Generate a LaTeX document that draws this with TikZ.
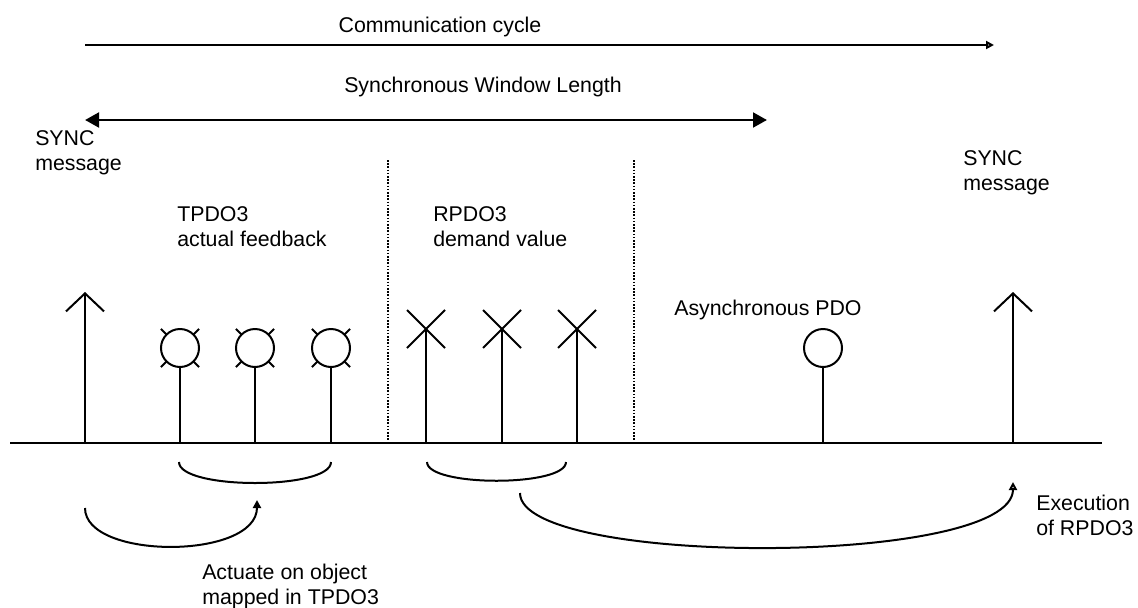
\documentclass[tikz,border=0pt]{standalone}
\usepackage{fontspec}
\setmainfont{Liberation Sans}
\usepackage{tikz}
\usetikzlibrary{arrows.meta}
\tikzset{
  lbl/.style={align=left, inner sep=0pt, anchor=base west, font=\fontsize{16}{18.75}\selectfont},
  stem/.style={black, line width=1.5pt},
  span/.style={black, line width=2.2pt},
  brace/.style={black, line width=1.5pt},
  smalltip/.style={-{Triangle[open, length=6pt, width=6pt]}},
}

\begin{document}
\begin{tikzpicture}[x=0.75pt, y=-0.75pt]
\useasboundingbox (0,0) rectangle (1138,607);
\coordinate (cyc-s) at (85,45);
\coordinate (cyc-e) at (994,45);
\coordinate (win-s) at (85,120);
\coordinate (win-e) at (767,120);
\draw[span, smalltip] (cyc-s) -- (cyc-e);
\node[lbl, anchor=base] (cyc) at (440,32) {Communication cycle};
\draw[span, {Triangle[length=10.5pt, width=11pt]}-{Triangle[length=10.5pt, width=11pt]}] (win-s) -- (win-e);
\node[lbl, anchor=base] (win) at (483,92) {Synchronous Window Length};
\node[lbl] (sync-l) at (35,170) {SYNC\\message};
\node[lbl] (sync-r) at (963,190) {SYNC\\message};
\node[lbl] (tpdo) at (177,246) {TPDO3\\actual feedback};
\node[lbl] (rpdo) at (433,246) {RPDO3\\demand value};
\node[lbl] (apdo) at (674,315) {Asynchronous PDO};
\node[lbl] (exec) at (1036,535) {Execution\\of RPDO3};
\node[lbl] (act) at (202,604) {Actuate on object\\mapped in TPDO3};
\draw[stem] (10,443) -- (1102,443);
\foreach \x in {85,1013} {
 \draw[stem, -{Straight Barb[length=13.5pt, width=28.5pt]}] (\x,443) -- (\x,292);
}
\foreach \x in {180,255,331} {
 \draw[stem] (\x,443) -- (\x,367);
 \draw[stem] (\x,348) circle (19);
 \foreach \a in {45,135,225,315} {
  \draw[stem] (\x,348) ++(\a:19) -- ++(\a:8);
 }
}
\draw[stem] (823,443) -- (823,367);
\draw[stem] (823,348) circle (19);
\foreach \x in {426,502,577} {
 \draw[stem] (\x,443) -- (\x,329);
 \draw[stem] (\x-19,310) -- (\x+19,348);
 \draw[stem] (\x-19,348) -- (\x+19,310);
}
\foreach \x in {388,634} {
 \draw[black, line width=1.2pt, dash pattern=on 1.2pt off 1.2pt] (\x,160) -- (\x,440);
}
\draw[brace] (179,462) .. controls (179,490) and (331,490) .. (331,462);
\draw[brace] (427,462) .. controls (427,487) and (566,487) .. (566,462);
\coordinate (act-s) at (85,508);
\coordinate (act-e) at (257,500);
\coordinate (exec-s) at (520,493);
\coordinate (exec-e) at (1013,482);
\draw[brace, -{Triangle[length=6pt, width=6pt]}] (act-s) .. controls (85,560) and (257,560) .. (act-e);
\draw[brace, smalltip] (exec-s) .. controls (520,567) and (1013,567) .. (exec-e);
\end{tikzpicture}
\end{document}
